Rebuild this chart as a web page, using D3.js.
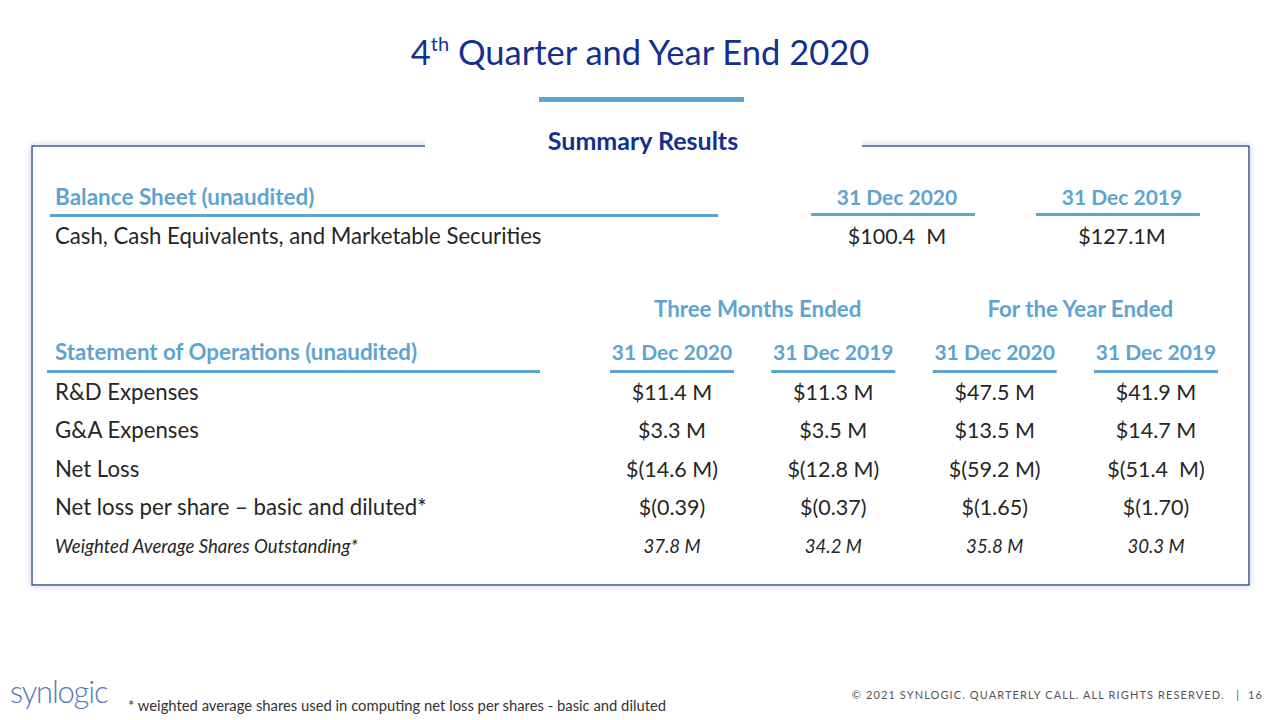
<!DOCTYPE html>
<html><head><meta charset="utf-8">
<script src="https://cdn.jsdelivr.net/npm/d3@7"></script>
<style>
html,body{margin:0;padding:0;background:#fff;}
svg{display:block;font-family:Lato,"Open Sans",sans-serif;}
</style></head>
<body><div id="chart"></div>
<script>
// ---- data ----
const balanceColumns = ["31 Dec 2020", "31 Dec 2019"];
const balanceRowLabel = "Cash, Cash Equivalents, and Marketable Securities";
const balanceValues = ["$100.4 M", "$127.1M"];
const periodGroups = ["Three Months Ended", "For the Year Ended"];
const opsColumns = ["31 Dec 2020 (Q)", "31 Dec 2019 (Q)", "31 Dec 2020 (Y)", "31 Dec 2019 (Y)"];
const opsColumnLabels = ["31 Dec 2020", "31 Dec 2019", "31 Dec 2020", "31 Dec 2019"];
const opsRows = ["R&D Expenses", "G&A Expenses", "Net Loss", "Net loss per share \u2013 basic and diluted*", "Weighted Average Shares Outstanding*"];
const rdValues = ["$11.4 M", "$11.3 M", "$47.5 M", "$41.9 M"];
const gaValues = ["$3.3 M", "$3.5 M", "$13.5 M", "$14.7 M"];
const netLossValues = ["$(14.6 M)", "$(12.8 M)", "$(59.2 M)", "$(51.4  M)"];
const perShareValues = ["$(0.39)", "$(0.37)", "$(1.65)", "$(1.70)"];
const sharesValues = ["37.8 M", "34.2 M", "35.8 M", "30.3 M"];
const opsValues = [rdValues, gaValues, netLossValues, perShareValues, sharesValues];

// ---- drawing ----
const W = 1280, H = 720;
const dark = "#14308f", light = "#5ea4d1", ink = "#262626", frame = "#1f3b6e";
const svg = d3.select("#chart").append("svg").attr("width", W).attr("height", H);

const defs = svg.append("defs");
const f = defs.append("filter").attr("id","glow").attr("x","-5%").attr("y","-5%").attr("width","110%").attr("height","110%");
f.append("feGaussianBlur").attr("in","SourceAlpha").attr("stdDeviation",3).attr("result","b");
f.append("feFlood").attr("flood-color","#b9c8ec").attr("result","c");
f.append("feComposite").attr("in","c").attr("in2","b").attr("operator","in").attr("result","s");
const m = f.append("feMerge"); m.append("feMergeNode").attr("in","s"); m.append("feMergeNode").attr("in","SourceGraphic");

// title
const title = svg.append("text").attr("x", 640).attr("y", 65).attr("text-anchor","middle")
  .attr("fill", dark).attr("font-size", 34.5);
title.append("tspan").text("4");
title.append("tspan").attr("font-size", 20).attr("dy", -14).text("th");
title.append("tspan").attr("dy", 14).text(" Quarter and Year End 2020");
svg.append("rect").attr("x", 539).attr("y", 97).attr("width", 205).attr("height", 5).attr("fill", light);

// frame box
svg.append("rect").attr("x", 32).attr("y", 146).attr("width", 1217).attr("height", 439)
  .attr("fill","#fff").attr("stroke", frame).attr("stroke-width", 1.3).attr("filter","url(#glow)");
svg.append("rect").attr("x", 425).attr("y", 138).attr("width", 437).attr("height", 14).attr("fill","#fff");
svg.append("text").attr("x", 643).attr("y", 150).attr("text-anchor","middle").attr("fill", dark)
  .attr("font-size", 25).attr("font-weight","bold").text("Summary Results");

// balance sheet
const xBal = d3.scalePoint().domain(balanceColumns).range([897, 1122]);
svg.append("text").attr("x", 55).attr("y", 205).attr("fill", light).attr("font-size", 22.5).attr("font-weight","bold")
  .text("Balance Sheet (unaudited)");
svg.append("rect").attr("x", 50).attr("y", 214).attr("width", 668).attr("height", 3).attr("fill", light);
const balHead = svg.append("g").selectAll("g").data(balanceColumns).join("g");
balHead.append("text").attr("x", d => xBal(d)).attr("y", 205).attr("text-anchor","middle")
  .attr("fill", light).attr("font-size", 21).attr("font-weight","bold").text(d => d);
balHead.append("rect").attr("x", d => xBal(d) - 86).attr("y", 213).attr("width", 164).attr("height", 3).attr("fill", light);
svg.append("text").attr("x", 55).attr("y", 244).attr("fill", ink).attr("font-size", 22.2).text(balanceRowLabel);
svg.append("g").selectAll("text").data(balanceValues).join("text")
  .attr("x", (d,i) => xBal(balanceColumns[i])).attr("y", 244).attr("text-anchor","middle")
  .attr("fill", ink).attr("font-size", 21.5).style("white-space","pre").text(d => d.replace(" ", "\u00A0 "));

// operations
const xOps = d3.scalePoint().domain(opsColumns).range([672, 1156]);
const yOps = d3.scalePoint().domain(opsRows).range([400, 553]);
const groupX = [ (xOps(opsColumns[0]) + xOps(opsColumns[1]))/2 + 5, (xOps(opsColumns[2]) + xOps(opsColumns[3]))/2 + 5 ];
svg.append("g").selectAll("text").data(periodGroups).join("text")
  .attr("x", (d,i) => groupX[i]).attr("y", 317).attr("text-anchor","middle")
  .attr("fill", light).attr("font-size", 22.3).attr("font-weight","bold").text(d => d);
svg.append("text").attr("x", 55).attr("y", 360).attr("fill", light).attr("font-size", 22.3).attr("font-weight","bold")
  .text("Statement of Operations (unaudited)");
svg.append("rect").attr("x", 47).attr("y", 370).attr("width", 493).attr("height", 3).attr("fill", light);
const opsHead = svg.append("g").selectAll("g").data(opsColumns).join("g");
opsHead.append("text").attr("x", d => xOps(d)).attr("y", 360).attr("text-anchor","middle")
  .attr("fill", light).attr("font-size", 21).attr("font-weight","bold").text((d,i) => opsColumnLabels[i]);
opsHead.append("rect").attr("x", d => xOps(d) - 62).attr("y", 370).attr("width", 124).attr("height", 3).attr("fill", light);

const rows = svg.append("g").selectAll("g").data(opsRows).join("g")
  .attr("transform", d => `translate(0,${yOps(d)})`);
rows.append("text").attr("x", 55).attr("fill", ink)
  .attr("font-size", (d,i) => i === 4 ? 18.6 : 22.2)
  .attr("font-style", (d,i) => i === 4 ? "italic" : "normal")
  .text(d => d);
rows.each(function(d, i) {
  d3.select(this).selectAll("text.v").data(opsValues[i]).join("text").attr("class","v")
    .attr("x", (v,j) => xOps(opsColumns[j])).attr("text-anchor","middle").attr("fill", ink)
    .attr("font-size", i === 4 ? 18.6 : 21.5).attr("font-style", i === 4 ? "italic" : "normal")
    .style("white-space","pre").text(v => v);
});

// footer
svg.append("text").attr("x", 10).attr("y", 703).attr("fill", "#5b78b8").attr("font-size", 31)
  .attr("font-weight", 300).attr("letter-spacing", -1.2).style("font-family","Lato").text("synlogic");
svg.append("text").attr("x", 128).attr("y", 711).attr("fill", "#333").attr("font-size", 14.8)
  .text("* weighted average shares used in computing  net loss per shares - basic and diluted");
svg.append("text").attr("x", 1263).attr("y", 699).attr("text-anchor","end").attr("fill", "#555").attr("font-size", 11)
  .attr("letter-spacing", 1.1).style("white-space","pre")
  .text("\u00A9 2021 SYNLOGIC. QUARTERLY CALL. ALL RIGHTS RESERVED.   |  16");
</script></body></html>
